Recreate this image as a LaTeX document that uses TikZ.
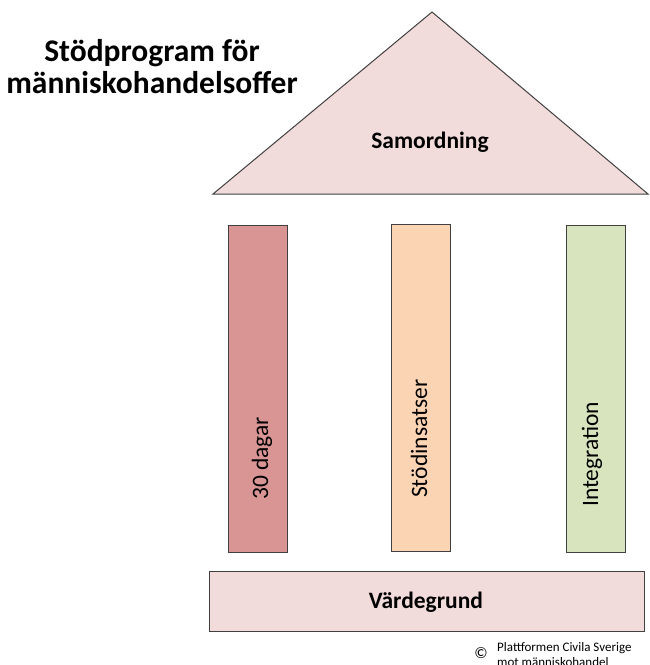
\documentclass[tikz,border=0pt]{standalone}
\usepackage{fontspec}
\setmainfont{Carlito}
\definecolor{roofpink}{HTML}{F2DCDB}
\definecolor{pillarred}{HTML}{D99594}
\definecolor{pillarorange}{HTML}{FBD4B4}
\definecolor{pillargreen}{HTML}{D7E4BD}
\definecolor{edgegray}{HTML}{404040}
\begin{document}
\begin{tikzpicture}[x=1pt,y=-1pt,
  shapeline/.style={draw=edgegray, line width=1pt},
  pillarbox/.style={shapeline, rectangle, minimum width=59pt, minimum height=327pt, inner sep=0pt},
  pillartext/.style={rotate=90, anchor=west, inner sep=0pt, font=\fontsize{23.5}{27}\selectfont},
  boldlabel/.style={font=\fontsize{23.5}{28}\selectfont\bfseries, inner sep=0pt}]
\useasboundingbox (0,0) rectangle (650,665);
\clip (0,0) rectangle (650,665);
% roof
\draw[shapeline, fill=roofpink] (213,194) coordinate (tl) -- (432,12) coordinate (apex) -- (648,194) coordinate (tr) -- cycle;
\node[boldlabel] (roof) at (430,142) {Samordning};
% pillars
\node[pillarbox, fill=pillarred] (p1) at (258,388.5) {};
\node[pillarbox, fill=pillarorange] (p2) at (421,387.5) {};
\node[pillarbox, fill=pillargreen] (p3) at (596,388.5) {};
\node[pillartext] (t1) at (262,500) {30 dagar};
\node[pillartext] (t2) at (419,498) {Stödinsatser};
\node[pillartext] (t3) at (592,507) {Integration};
% base
\node[shapeline, rectangle, fill=roofpink, minimum width=435pt, minimum height=60pt, inner sep=0pt] (base) at (426.5,601) {};
\node[boldlabel] (vg) at (426,602) {Värdegrund};
% title (base anchor = baseline of last line)
\node[font=\fontsize{31.5}{32}\selectfont\bfseries, align=center, inner sep=0pt, anchor=base] (title) at (152,93) {Stödprogram för\\människohandelsoffer};
% copyright
\node[font=\fontsize{16}{16}\selectfont, inner sep=0pt] (copysym) at (481,653) {©};
\node[font=\fontsize{13}{15}\selectfont, align=left, anchor=base west, inner sep=0pt] (copytext) at (497,666) {Plattformen Civila Sverige\\mot människohandel};
\end{tikzpicture}
\end{document}
